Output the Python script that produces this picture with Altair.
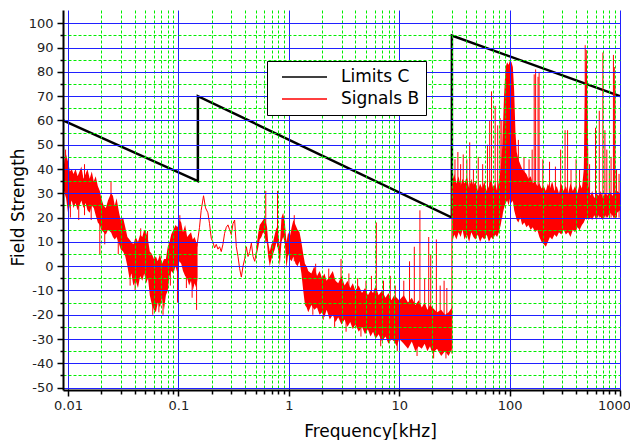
import altair as alt
import pandas as pd

# ---------------- data ----------------
# Limit line (black)
limit_freq = [0.009, 0.15, 0.15, 30, 30, 1000]
limit_level = [60, 35, 70, 20, 95, 70]

# Noisy band 0.009 - 0.15 kHz (lower / upper envelope)
A_freq = [0.009, 0.0093, 0.0096, 0.0100, 0.0104, 0.0108, 0.0112, 0.0117, 0.0122, 0.0127,
          0.0132, 0.0138, 0.0144, 0.0150, 0.0157, 0.0164, 0.0171, 0.0178, 0.0186, 0.0194,
          0.0200, 0.0210, 0.0220, 0.0230, 0.0245, 0.0255, 0.0265, 0.0275, 0.0290, 0.0300,
          0.0315, 0.0330, 0.0345, 0.0360, 0.0375, 0.0390, 0.0410, 0.0430, 0.0450, 0.0470,
          0.0490, 0.0510, 0.0530, 0.0550, 0.0575, 0.0600, 0.0625, 0.0650, 0.0680, 0.0710,
          0.0740, 0.0770, 0.0800, 0.0830, 0.0860, 0.0900, 0.0940, 0.0980, 0.1020, 0.1060,
          0.1100, 0.1150, 0.1200, 0.1250, 0.1300, 0.1350, 0.1400, 0.1450, 0.1490]
A_lo = [33, 30, 28, 22, 25, 27, 24, 26, 23, 25,
        27, 24, 26, 23, 22, 25, 24, 21, 18, 17,
        15, 14, 13, 15, 14, 12, 11, 12, 9, 7,
        6, 4, 0, -5, -3, -8, -6, -9, -4, -6,
        -3, -7, -5, -12, -16, -18, -19, -15, -17, -13,
        -18, -12, -10, -4, -2, -3, 0, -3, 2, 1,
        -2, -4, -5, -8, -6, -10, -7, -9, -5]
A_hi = [38, 44, 46, 43, 39, 40, 38, 40, 37, 39,
        41, 36, 38, 40, 36, 39, 35, 37, 33, 31,
        28, 25, 24, 27, 30, 29, 25, 28, 22, 19,
        20, 16, 12, 11, 10, 9, 12, 10, 13, 12,
        15, 14, 11, 6, 5, 3, 4, 2, 5, 1,
        3, 3, 8, 10, 13, 15, 17, 16, 19, 18,
        14, 17, 12, 13, 14, 11, 12, 10, 9]

# Thin trace 0.15 - 0.5 kHz
thin_freq = [0.1468, 0.1552, 0.1607, 0.1688, 0.176, 0.1848, 0.1913, 0.1982, 0.2052, 0.2125,
             0.22, 0.2279, 0.2359, 0.2443, 0.2529, 0.2619, 0.2712, 0.2809, 0.2908, 0.3011,
             0.3119, 0.3229, 0.3344, 0.3463, 0.3585, 0.3713, 0.3845, 0.3981, 0.4123, 0.4269,
             0.4421, 0.4578, 0.474, 0.4909, 0.5083]
thin_level = [8, 16, 23, 29, 24, 22, 17.5, 11.5, 10, 7.5,
              9, 7, 8, 6, 9, 13.5, 16, 17, 15, 13,
              17.5, 19, 8, 4, -1, -4.5, 0, 3, 8, 4,
              6, 9.5, 4, 2, 6]

# Noisy band 0.5 - 30 kHz
C_freq = [0.5083, 0.53, 0.545, 0.565, 0.585, 0.605, 0.635, 0.65, 0.672, 0.696,
          0.72, 0.746, 0.773, 0.805, 0.828, 0.858, 0.888, 0.92, 0.952, 0.986,
          1.02, 1.06, 1.10, 1.15, 1.2, 1.25, 1.3, 1.35, 1.4, 1.45,
          1.5, 1.6, 1.7, 1.8, 1.9, 2.0, 2.1, 2.2, 2.35, 2.5,
          2.65, 2.8, 3.0, 3.2, 3.4, 3.6, 3.8, 4.0, 4.3, 4.6,
          4.9, 5.2, 5.5, 5.8, 6.1, 6.5, 7.0, 7.5, 8.0, 8.5,
          9.0, 9.5, 10, 11, 12, 13, 14, 15, 16, 17,
          18, 19, 20, 22, 24, 26, 28, 30]
C_lo = [4, 8, 11, 12, 14, 13, 9, 4, 0, 3,
        5, 7, 10, 6, 0, 10, 12, 10, -1, 5,
        3, 2, 4, 1, 0, 2, -3, -10, -16, -17,
        -19, -16, -18, -17, -20, -19, -21, -18, -22, -20,
        -23, -21, -24, -22, -25, -23, -26, -24, -27, -25,
        -28, -26, -29, -27, -30, -28, -31, -29, -32, -30,
        -31, -33, -30, -32, -34, -31, -35, -33, -34, -32,
        -35, -33, -36, -34, -37, -35, -37, -34]
C_hi = [8, 14, 17, 18, 19, 20, 16, 10, 6, 9,
        10, 13, 16, 13, 8, 20, 22, 18, 10, 14,
        12, 16, 19, 17, 15, 14, 10, 5, 1, 0,
        -2, -3, 0, -4, -2, -5, -3, -6, -4, -2,
        -6, -7, -4, -8, -6, -9, -7, -10, -8, -11,
        -9, -12, -10, -11, -8, -12, -10, -13, -11, -14,
        -12, -13, -14, -12, -15, -13, -16, -14, -17, -15,
        -18, -16, -17, -19, -18, -20, -19, -17]

# Noisy band 30 - 1000 kHz
D_freq = [30.3, 31.5, 33, 34.5, 36, 37.5, 39, 41, 43, 45,
          47, 49, 51.5, 54, 56.5, 59, 62, 65, 68, 71,
          74, 77, 80, 83, 86, 89, 92, 95, 98, 101,
          104, 107, 110, 113, 116, 120, 125, 130, 136, 142,
          148, 155, 162, 170, 178, 186, 195, 204, 213, 222,
          232, 243, 255, 267, 280, 294, 308, 323, 339, 356,
          374, 392, 411, 431, 452, 470, 480, 490, 500, 510,
          520, 540, 560, 585, 610, 640, 670, 700, 735, 770,
          810, 850, 890, 940, 1000]
D_lo = [10, 13, 11, 14, 12, 15, 11, 13, 10, 14,
        12, 11, 13, 10, 12, 11, 13, 10, 12, 11,
        13, 12, 14, 17, 21, 24, 26, 27, 25, 28,
        26, 27, 23, 21, 19, 18, 20, 17, 18, 16,
        17, 15, 16, 14, 15, 12, 10, 9, 8, 10,
        12, 11, 13, 12, 14, 13, 15, 13, 14, 12,
        15, 14, 16, 15, 17, 18, 19, 20, 19, 20,
        19, 20, 19, 21, 19, 21, 20, 19, 21, 20,
        22, 21, 20, 22, 23]
D_hi = [35, 38, 34, 37, 33, 36, 34, 37, 32, 36,
        33, 35, 31, 34, 32, 35, 31, 33, 36, 32,
        34, 31, 35, 40, 50, 70, 82, 84, 83, 85,
        84, 82, 72, 55, 47, 44, 42, 40, 39, 38,
        36, 37, 34, 35, 33, 34, 32, 33, 31, 34,
        32, 35, 31, 33, 30, 34, 31, 33, 30, 34,
        31, 33, 30, 34, 32, 40, 68, 86, 84, 62,
        33, 29, 31, 28, 30, 29, 31, 28, 30, 29,
        31, 29, 30, 31, 30]

# Individual spikes (frequency, bottom, top)
spike_freq = [0.0095, 0.0194, 0.0245, 0.0455, 0.0525, 0.098, 0.103, 0.146,
              0.0105, 0.0125, 0.0141, 0.0162, 0.0215, 0.0285, 0.0365, 0.0405,
              0.0585, 0.0665, 0.0725, 0.0845, 0.118, 0.133,
              0.618, 0.79, 1.12, 1.75, 2.3, 2.97, 3.5, 4.2, 5.0, 5.6,
              6.2, 7.2, 8.3, 9.2, 11, 12.4, 13.7, 15.4, 17, 18.5,
              19.3, 21.7, 23.5, 25.5, 27, 30,
              1.65, 2.05, 2.6, 3.3, 4.5, 6.8, 9.6, 14.5, 20.5, 26.5,
              32, 34, 36, 38, 41, 43.5, 47, 52, 57, 63,
              66, 68.6, 74, 78, 82, 85, 120, 135, 150, 160,
              167, 172, 181, 185, 200, 230, 260, 290, 318, 335,
              360, 400, 430, 484, 495, 530, 600, 649, 700, 730,
              760, 800, 830, 872, 888, 900, 930, 980]
spike_lo = [30, 5, 14, -2, -5, -15, 5, -18,
            20, 19, 21, 19, 9, 5, -8, -10,
            -20, -19, -20, -8, -9, -13,
            10, 8, 2, -12, -15, -15, -18, -20, -20, -22,
            -22, -25, -25, -25, -28, -28, -28, -28, -28, -28,
            -28, -28, -30, -30, -30, -36,
            -20, -22, -25, -27, -29, -33, -35, -37, -38, -38,
            15, 18, 15, 20, 15, 20, 15, 15, 15, 15,
            15, 20, 20, 20, 20, 20, 20, 20, 18, 18,
            18, 18, 18, 18, 15, 15, 15, 15, 15, 15,
            15, 15, 15, 20, 20, 20, 20, 20, 20, 20,
            20, 20, 20, 20, 20, 20, 20, 20]
spike_hi = [48, 25, 35, 15.6, 14.5, 4, 21, 0,
            30, 30, 42, 30, 20, 15, 5, 3,
            -5, -8, -5, 5, 5, 2,
            31, 31, 21, 1, -1, 3, -3, -5, -6, -4,
            18, -6, -4, -8, -6, 2, 8, 23, -5, 12,
            5, 11, -8, -6, -9, 33,
            -10, -12, -10, -15, -15, -20, -18, -25, -26, -28,
            44, 47, 42, 46, 44, 51, 40, 45, 42, 50,
            60, 72, 66, 58, 61, 60, 52, 45, 44, 48,
            79, 81, 78, 80, 44, 43, 41, 48, 56, 56,
            40, 44, 40, 91, 89, 42, 57, 64, 88, 56,
            48, 40, 45, 87, 82, 75, 40, 38]

series_names = ["Limits C", "Signals B"]
series_colors = ["#000000", "#ff0000"]

# axis tick positions
x_ticks = [round(m * 10.0 ** e, 6) for e in range(-2, 3) for m in range(1, 10)] + [1000]
y_ticks = list(range(-50, 101, 5))

# ---------------- tables ----------------
limits = pd.DataFrame({"freq": limit_freq, "level": limit_level,
                       "series": [series_names[0]] * len(limit_freq),
                       "idx": list(range(len(limit_freq)))})
thin = pd.DataFrame({"freq": thin_freq, "level": thin_level,
                     "series": [series_names[1]] * len(thin_freq),
                     "idx": list(range(len(thin_freq)))})
band = pd.concat([
    pd.DataFrame({"freq": A_freq, "lo": A_lo, "hi": A_hi, "seg": "A"}),
    pd.DataFrame({"freq": C_freq, "lo": C_lo, "hi": C_hi, "seg": "C"}),
    pd.DataFrame({"freq": D_freq, "lo": D_lo, "hi": D_hi, "seg": "D"}),
], ignore_index=True)
spikes = pd.DataFrame({"freq": spike_freq, "lo": spike_lo, "hi": spike_hi})

# ---------------- styling ----------------
FONT = "DejaVu Sans"
BLUE = "#2020ff"
GREEN = "#00ee00"
MAJ_X = "abs(log(datum.value)/LN10 - round(log(datum.value)/LN10)) < 0.001"
MAJ_Y = "datum.value % 10 === 0"

x_axis = alt.Axis(
    values=x_ticks, title="Frequency[kHz]",
    grid=True,
    gridColor={"condition": {"test": MAJ_X, "value": BLUE}, "value": GREEN},
    gridDash={"condition": {"test": MAJ_X, "value": []}, "value": [3, 2]},
    gridWidth=1,
    tickSize={"condition": {"test": MAJ_X, "value": 6}, "value": 4},
    tickColor="black", tickWidth=1.5,
    domainColor="black", domainWidth=2,
    labelExpr=f"({MAJ_X}) ? format(datum.value, '~g') : ''",
    labelOffset={"condition": {"test": "datum.value >= 999", "value": -6}, "value": 0},
    labelFont=FONT, labelFontSize=13, labelColor="#222222",
    labelPadding=3, labelFlush=False, labelOverlap=False, labelBound=False,
    titleFont=FONT, titleFontSize=17, titleFontWeight="normal", titleColor="black",
    titleX=307, titleY=46, titleBaseline="alphabetic", titleAlign="center",
    zindex=1,
)
y_axis = alt.Axis(
    values=y_ticks, title="Field Strength",
    grid=True,
    gridColor={"condition": {"test": MAJ_Y, "value": BLUE}, "value": GREEN},
    gridDash={"condition": {"test": MAJ_Y, "value": []}, "value": [3, 2]},
    gridWidth=1,
    tickSize={"condition": {"test": MAJ_Y, "value": 6}, "value": 3},
    tickColor="black", tickWidth=1.5,
    domainColor="black", domainWidth=2,
    labelExpr=f"({MAJ_Y}) ? (datum.value < 0 ? '-' : '') + abs(datum.value) : ''",
    labelFont=FONT, labelFontSize=13, labelColor="#222222",
    labelPadding=4, labelFlush=False, labelOverlap=False, labelBound=False,
    titleFont=FONT, titleFontSize=17, titleFontWeight="normal", titleColor="black",
    titleX=-40, titleY=197, titleBaseline="alphabetic", titleAlign="center", titleAngle=270,
    zindex=1,
)

x_scale = alt.Scale(type="log", domain=[0.009, 1000], nice=False)
y_scale = alt.Scale(domain=[-51, 105.5], nice=False, zero=False)

X = alt.X("freq:Q", scale=x_scale, axis=x_axis)

color_enc = alt.Color(
    "series:N",
    scale=alt.Scale(domain=series_names, range=series_colors),
    legend=alt.Legend(
        title=None, orient="none", legendX=204, legendY=51,
        symbolType="stroke", symbolSize=2025, symbolStrokeWidth=1.6,
        clipHeight=20, padding=6, symbolOffset=8, labelOffset=13,
        labelFont=FONT, labelFontSize=17, labelColor="black",
        labelExpr="datum.label + '   '",
        fillColor="white", strokeColor="black", zindex=2,
    ),
)

limit_layer = alt.Chart(limits).mark_line(strokeWidth=2.5).encode(
    x=X,
    y=alt.Y("level:Q", scale=y_scale, axis=y_axis),
    color=color_enc,
    order=alt.Order("idx:Q"),
)

band_layer = alt.Chart(band).mark_area(color="#ff0000", opacity=1).encode(
    x=X,
    y=alt.Y("lo:Q", scale=y_scale, axis=y_axis),
    y2="hi:Q",
    detail="seg:N",
)

spike_layer = alt.Chart(spikes).mark_rule(color="#ff0000", strokeWidth=1).encode(
    x=X,
    y=alt.Y("lo:Q", scale=y_scale, axis=y_axis),
    y2="hi:Q",
)

thin_layer = alt.Chart(thin).mark_line(strokeWidth=1).encode(
    x=X,
    y=alt.Y("level:Q", scale=y_scale, axis=y_axis),
    color=color_enc,
    order=alt.Order("idx:Q"),
)

chart = alt.layer(limit_layer, band_layer, spike_layer, thin_layer).properties(
    width=557, height=380,
    autosize=alt.AutoSizeParams(type="none"),
    padding={"left": 55, "top": 2, "right": 10, "bottom": 50},
    background="white",
).configure_view(strokeWidth=0)

chart.save("out.html", embed_options={"renderer": "svg", "actions": False})
